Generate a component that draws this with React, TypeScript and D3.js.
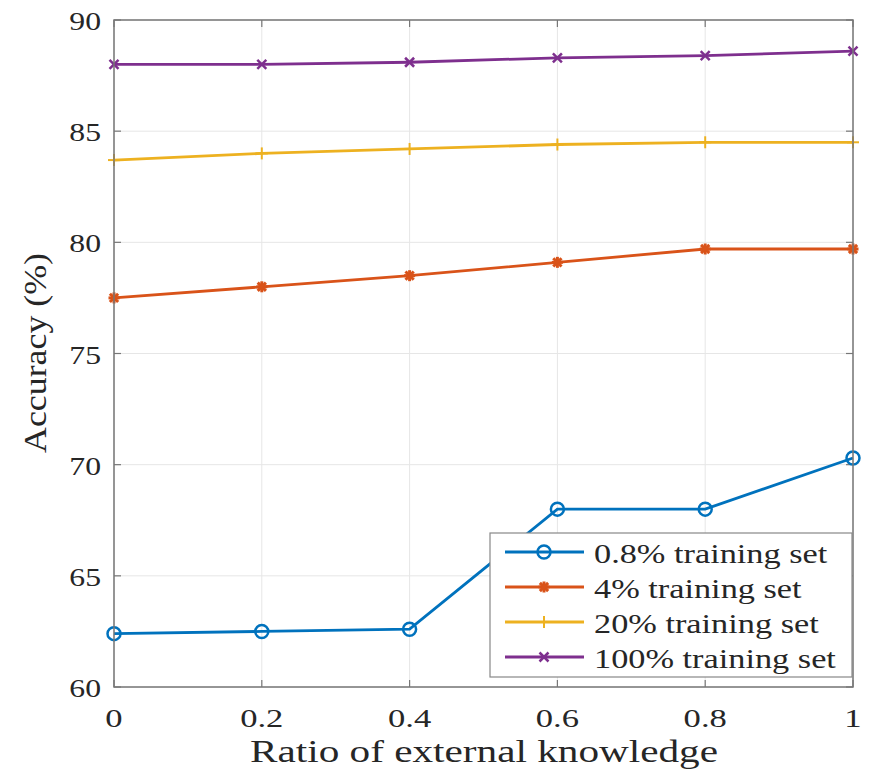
import React from "react";
import * as d3 from "d3";

const xValues = [0, 0.2, 0.4, 0.6, 0.8, 1];
const seriesNames = ["0.8% training set", "4% training set", "20% training set", "100% training set"];
const s08 = [62.4, 62.5, 62.6, 68.0, 68.0, 70.3];
const s4 = [77.5, 78.0, 78.5, 79.1, 79.7, 79.7];
const s20 = [83.7, 84.0, 84.2, 84.4, 84.5, 84.5];
const s100 = [88.0, 88.0, 88.1, 88.3, 88.4, 88.6];
const xTicks = [0, 0.2, 0.4, 0.6, 0.8, 1];
const xTickLabels = ["0", "0.2", "0.4", "0.6", "0.8", "1"];
const yTicks = [60, 65, 70, 75, 80, 85, 90];
const colors = ["#0072BD", "#D95319", "#EDB120", "#7E2F8E"];
const markers = ["circle", "star", "plus", "cross"];

const W = 871, H = 777;
const L = 114, R = 853, T = 20, B = 687;
const font = "'Liberation Serif', 'Times New Roman', serif";

function Txt({ x, y, anchor, size, sx, children }: any) {
  return (
    <text
      transform={`translate(${x},${y}) scale(${sx},1)`}
      textAnchor={anchor}
      fontFamily={font}
      fontSize={size}
      fill="#262626"
    >
      {children}
    </text>
  );
}

function Marker({ type, x, y, color }: { type: string; x: number; y: number; color: string }) {
  if (type === "circle") return <circle cx={x} cy={y} r={6.5} fill="none" stroke={color} strokeWidth={2.5} />;
  if (type === "star") {
    const s = 5.5;
    return (
      <g stroke={color} strokeWidth={3}>
        <line x1={x - s} y1={y} x2={x + s} y2={y} />
        <line x1={x} y1={y - s} x2={x} y2={y + s} />
        <line x1={x - s * 0.75} y1={y - s * 0.75} x2={x + s * 0.75} y2={y + s * 0.75} />
        <line x1={x - s * 0.75} y1={y + s * 0.75} x2={x + s * 0.75} y2={y - s * 0.75} />
      </g>
    );
  }
  if (type === "plus") {
    const s = 6;
    return (
      <g stroke={color} strokeWidth={2}>
        <line x1={x - s} y1={y} x2={x + s} y2={y} />
        <line x1={x} y1={y - s} x2={x} y2={y + s} />
      </g>
    );
  }
  const s = 4.5;
  return (
    <g stroke={color} strokeWidth={2.5}>
      <line x1={x - s} y1={y - s} x2={x + s} y2={y + s} />
      <line x1={x - s} y1={y + s} x2={x + s} y2={y - s} />
    </g>
  );
}

export default function App() {
  const x = d3.scaleLinear().domain([0, 1]).range([L, R]);
  const y = d3.scaleLinear().domain([60, 90]).range([B, T]);
  const data = [s08, s4, s20, s100];
  const line = d3
    .line<number>()
    .x((_, i) => x(xValues[i]))
    .y((d) => y(d));

  const legX = 490, legY = 533, legW = 362, legH = 144;
  const rowY = [552, 587, 622, 657];

  return (
    <svg width={W} height={H} style={{ position: "absolute", left: 0, top: 0, background: "#fff" }}>
      <rect x={0} y={0} width={W} height={H} fill="#fff" />
      {xTicks.map((t) => (
        <line key={"gx" + t} x1={x(t)} x2={x(t)} y1={T} y2={B} stroke="#e6e6e6" strokeWidth={1} />
      ))}
      {yTicks.map((t) => (
        <line key={"gy" + t} x1={L} x2={R} y1={y(t)} y2={y(t)} stroke="#e6e6e6" strokeWidth={1} />
      ))}
      {xTicks.map((t) => (
        <g key={"tx" + t} stroke="#777" strokeWidth={1.2}>
          <line x1={x(t)} x2={x(t)} y1={B} y2={B - 7} />
          <line x1={x(t)} x2={x(t)} y1={T} y2={T + 7} />
        </g>
      ))}
      {yTicks.map((t) => (
        <g key={"ty" + t} stroke="#777" strokeWidth={1.2}>
          <line x1={L} x2={L + 7} y1={y(t)} y2={y(t)} />
          <line x1={R} x2={R - 7} y1={y(t)} y2={y(t)} />
        </g>
      ))}
      {data.map((d, si) => (
        <g key={"s" + si}>
          <path d={line(d) || ""} fill="none" stroke={colors[si]} strokeWidth={2.8} />
          {d.map((v, i) => (
            <Marker key={i} type={markers[si]} x={x(xValues[i])} y={y(v)} color={colors[si]} />
          ))}
        </g>
      ))}
      <rect x={L} y={T} width={R - L} height={B - T} fill="none" stroke="#777" strokeWidth={1.5} />
      {xTicks.map((t, i) => (
        <Txt key={"lx" + t} x={x(t)} y={B + 40} anchor="middle" size={26} sx={1.33}>
          {xTickLabels[i]}
        </Txt>
      ))}
      {yTicks.map((t) => (
        <Txt key={"ly" + t} x={L - 13} y={y(t) + 10} anchor="end" size={26} sx={1.22}>
          {t}
        </Txt>
      ))}
      <text
        x={(250 + 718) / 2}
        y={762}
        textAnchor="middle"
        fontFamily={font}
        fontSize={30.5}
        fill="#262626"
        textLength={468}
        lengthAdjust="spacingAndGlyphs"
      >
        Ratio of external knowledge
      </text>
      <text
        transform={`translate(46, ${(253 + 453) / 2}) rotate(-90)`}
        textAnchor="middle"
        fontFamily={font}
        fontSize={31}
        fill="#262626"
        textLength={200}
        lengthAdjust="spacingAndGlyphs"
      >
        Accuracy (%)
      </text>
      <rect x={legX} y={legY} width={legW} height={legH} fill="#fff" stroke="#888" strokeWidth={1.2} />
      {seriesNames.map((n, i) => (
        <g key={"lg" + i}>
          <line x1={505} x2={584} y1={rowY[i]} y2={rowY[i]} stroke={colors[i]} strokeWidth={2.8} />
          <Marker type={markers[i]} x={544} y={rowY[i]} color={colors[i]} />
          <Txt x={594} y={rowY[i] + 11} anchor="start" size={27} sx={1.27}>
            {n}
          </Txt>
        </g>
      ))}
    </svg>
  );
}
